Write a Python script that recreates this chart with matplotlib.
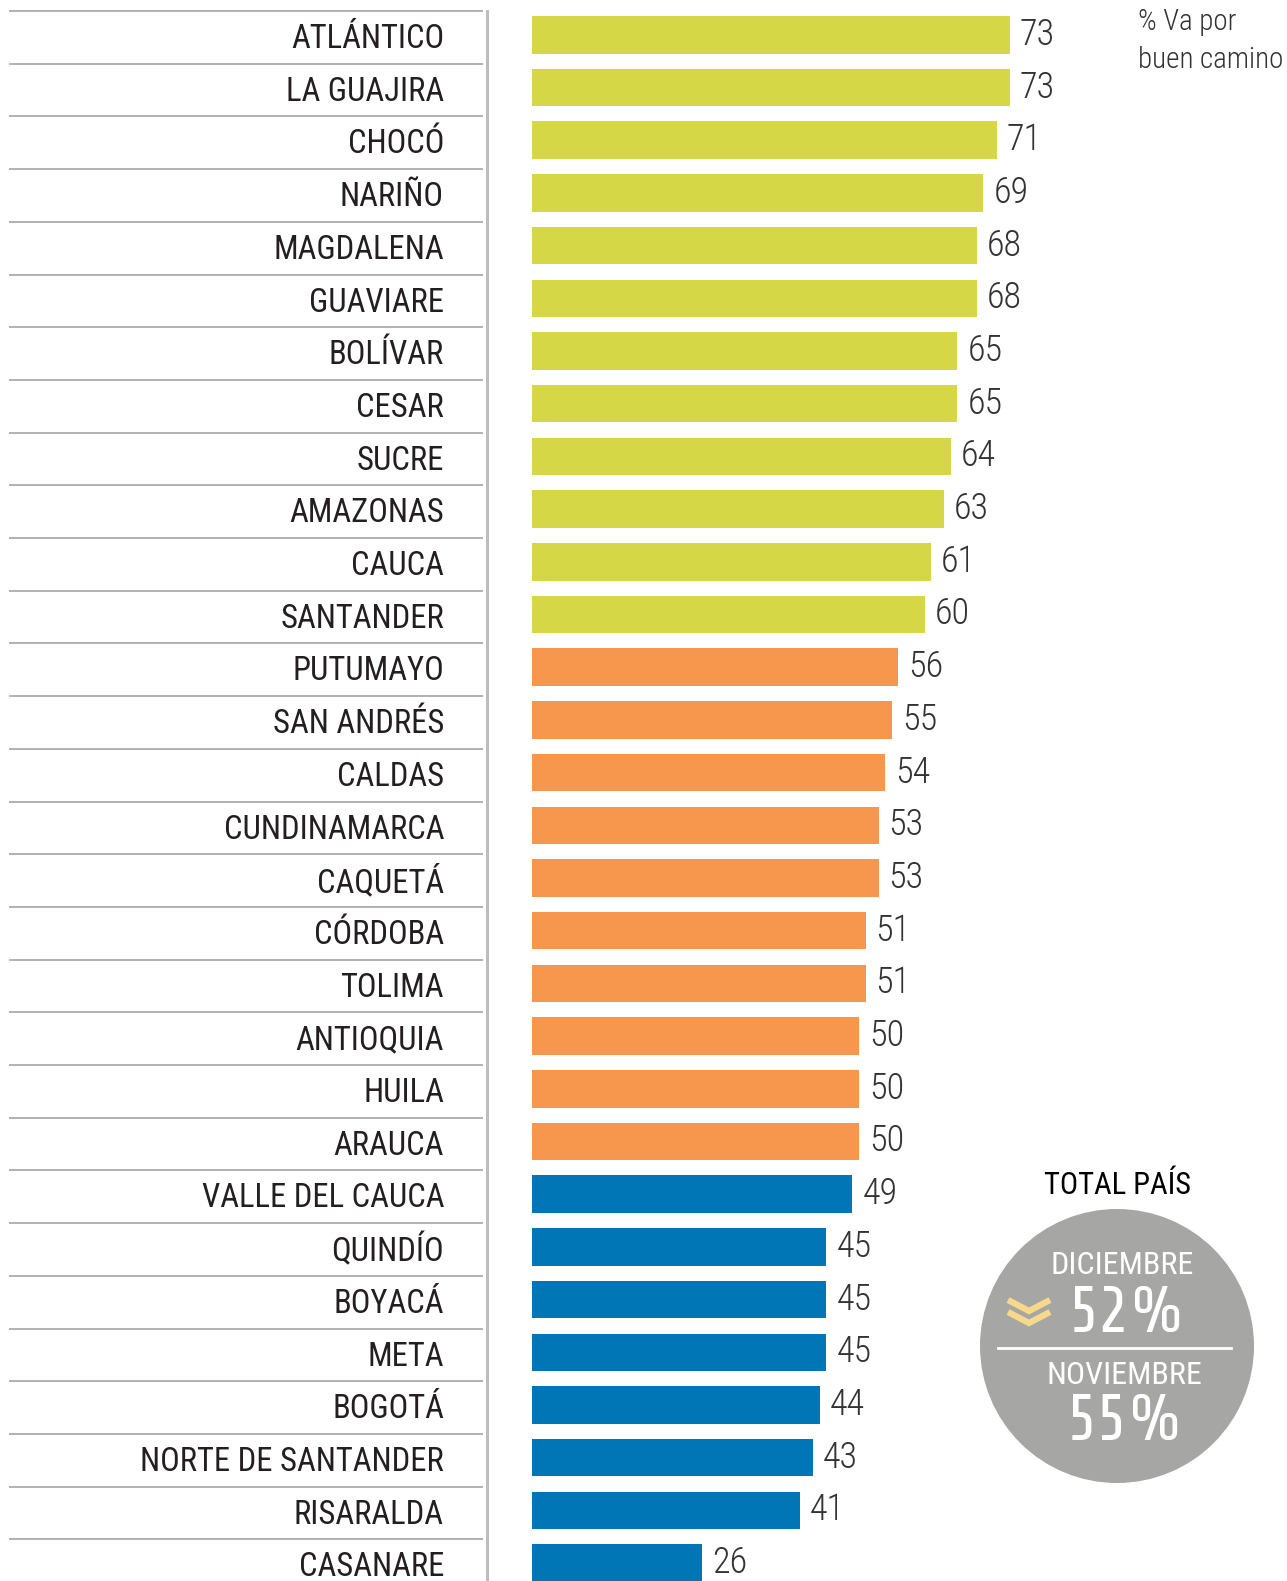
import matplotlib
matplotlib.use("Agg")
import matplotlib.pyplot as plt
from matplotlib import font_manager as fm
from matplotlib.patches import Circle

disponibles = {f.name for f in fm.fontManager.ttflist}


def primera(cands):
    for c in cands:
        if c in disponibles:
            return c
    return 'DejaVu Sans'


fuente = primera(['Roboto Condensed', 'Archivo Narrow', 'PT Sans Narrow', 'Liberation Sans Narrow'])
fuente_dig = primera(['Share Tech', 'Share Tech Mono', 'Orbitron', 'Aldrich'])
plt.rcParams['font.family'] = [fuente, 'DejaVu Sans']

departamentos = ['ATLÁNTICO', 'LA GUAJIRA', 'CHOCÓ', 'NARIÑO', 'MAGDALENA', 'GUAVIARE',
                 'BOLÍVAR', 'CESAR', 'SUCRE', 'AMAZONAS', 'CAUCA', 'SANTANDER',
                 'PUTUMAYO', 'SAN ANDRÉS', 'CALDAS', 'CUNDINAMARCA', 'CAQUETÁ', 'CÓRDOBA',
                 'TOLIMA', 'ANTIOQUIA', 'HUILA', 'ARAUCA',
                 'VALLE DEL CAUCA', 'QUINDÍO', 'BOYACÁ', 'META', 'BOGOTÁ',
                 'NORTE DE SANTANDER', 'RISARALDA', 'CASANARE']
valores = [73, 73, 71, 69, 68, 68, 65, 65, 64, 63, 61, 60,
           56, 55, 54, 53, 53, 51, 51, 50, 50, 50,
           49, 45, 45, 45, 44, 43, 41, 26]
grupo = ['alto'] * 12 + ['medio'] * 10 + ['bajo'] * 8

total_titulo = 'TOTAL PAÍS'
meses = ['DICIEMBRE', 'NOVIEMBRE']
totales = [52, 55]

colores = {'alto': '#D5D746', 'medio': '#F7964D', 'bajo': '#0076B6'}
texto = '#231F20'

W, H = 1287, 1581
fig = plt.figure(figsize=(W / 100, H / 100), dpi=100)

# eje principal: x en % (0 en el inicio de las barras), y en filas
ppu = 6.55       # px por punto porcentual
x0 = 531.5       # px donde empiezan las barras
pitch = 52.7     # px por fila
y0 = 34.8        # px centro de la primera fila
ax = fig.add_axes([0, 0, 1, 1])
ax.set_xlim(-x0 / ppu, (W - x0) / ppu)
ax.set_ylim((H - y0) / pitch, -y0 / pitch)
ax.axis('off')


def px(p):
    return (p - x0) / ppu


n = len(departamentos)
ys = list(range(n))
ax.barh(ys, valores, height=0.71, color=[colores[g] for g in grupo], zorder=2)

for i, (nombre, v) in enumerate(zip(departamentos, valores)):
    ax.text(px(444), i + 0.08, nombre, ha='right', va='center',
            fontsize=23.5, color=texto)
    ax.text(v + 10 / ppu, i, str(v), ha='left', va='center',
            fontsize=26, color='#333333', fontweight='light')
    ax.plot([px(9), px(483)], [i - 0.45, i - 0.45], color='#ABABAB', lw=1.3,
            solid_capstyle='butt')

ax.plot([px(487), px(487)], [-0.45, n], color='#BDBDBD', lw=2.2)

# capa en píxeles para el círculo y textos sueltos
ov = fig.add_axes([0, 0, 1, 1])
ov.set_xlim(0, W)
ov.set_ylim(H, 0)
ov.axis('off')
ov.patch.set_alpha(0)

ov.text(1138, 22, '% Va por', ha='left', va='center', fontsize=21,
        color='#333333', fontweight='light')
ov.text(1138, 60, 'buen camino', ha='left', va='center', fontsize=21,
        color='#333333', fontweight='light')

ov.text(1117, 1186, total_titulo, ha='center', va='center', fontsize=22, color='black')
ov.add_patch(Circle((1117, 1346), 137, color='#A6A6A5', lw=0))
ov.text(1122, 1265, meses[0], ha='center', va='center', fontsize=23, color='white')
ov.text(1127, 1314, f'{totales[0]}%', ha='center', va='center', fontsize=47,
        color='white', family=[fuente_dig, 'DejaVu Sans'])
ov.plot([998, 1231], [1348, 1348], color='white', lw=2)
ov.text(1124, 1375, meses[1], ha='center', va='center', fontsize=23, color='white')
ov.text(1125, 1422, f'{totales[1]}%', ha='center', va='center', fontsize=47,
        color='white', family=[fuente_dig, 'DejaVu Sans'])

for dy in (0, 12):
    ov.plot([1008, 1029, 1050], [1300 + dy, 1311 + dy, 1300 + dy],
            color='#F6D98A', lw=4.5, solid_joinstyle='miter', solid_capstyle='butt')

fig.savefig('out.png', dpi=100)
